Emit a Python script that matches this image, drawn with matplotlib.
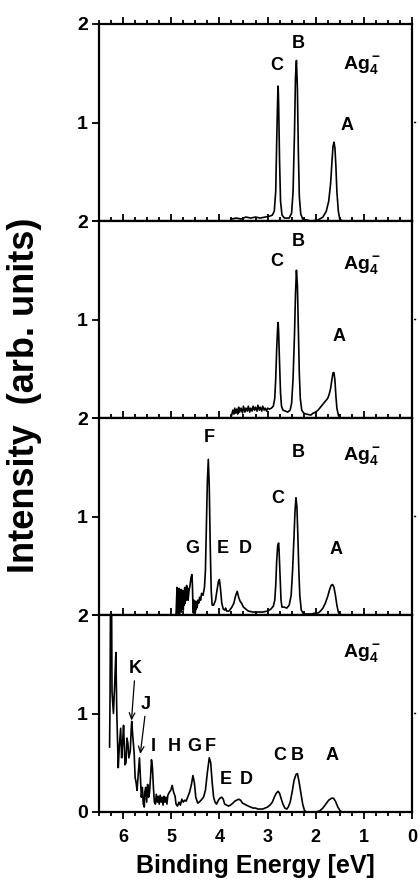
import matplotlib
matplotlib.use("Agg")
import matplotlib.pyplot as plt
from matplotlib.ticker import MultipleLocator

plt.rcParams['font.family'] = ['Liberation Sans', 'DejaVu Sans']
plt.rcParams['font.weight'] = 'bold'
plt.rcParams['mathtext.fontset'] = 'custom'
plt.rcParams['mathtext.rm'] = 'Liberation Sans:bold'
plt.rcParams['mathtext.bf'] = 'Liberation Sans:bold'
plt.rcParams['mathtext.it'] = 'Liberation Sans:bold'

# ---- spectra (binding energy eV, intensity) ----
e1 = [3.75, 3.65, 3.55, 3.45, 3.35, 3.25, 3.15, 3.05, 2.95, 2.90, 2.86, 2.83, 2.81, 2.79, 2.78,
      2.77, 2.75, 2.73, 2.70, 2.65, 2.55, 2.50, 2.47, 2.44, 2.42, 2.40, 2.38, 2.36, 2.34, 2.31,
      2.27, 2.10, 1.95, 1.85, 1.78, 1.73, 1.69, 1.66, 1.64, 1.62, 1.60, 1.58, 1.56, 1.53, 1.50, 1.45]
i1 = [0.02, 0.03, 0.02, 0.04, 0.03, 0.04, 0.03, 0.04, 0.05, 0.06, 0.10, 0.30, 0.80, 1.25, 1.37,
      1.20, 0.60, 0.20, 0.06, 0.03, 0.03, 0.08, 0.30, 0.90, 1.45, 1.63, 1.35, 0.70, 0.25, 0.07,
      0.02, 0.00, 0.01, 0.04, 0.10, 0.20, 0.38, 0.62, 0.76, 0.80, 0.74, 0.55, 0.30, 0.10, 0.02, 0.00]

e2 = [3.75, 3.72, 3.70, 3.68, 3.66, 3.64, 3.62, 3.60, 3.58, 3.55, 3.52, 3.50, 3.47, 3.45, 3.42,
      3.40, 3.37, 3.35, 3.32, 3.30, 3.27, 3.25, 3.22, 3.20, 3.17, 3.15, 3.12, 3.10, 3.07, 3.05,
      3.02, 3.00, 2.96, 2.92, 2.88, 2.85, 2.83, 2.81, 2.79, 2.78, 2.77, 2.75, 2.73, 2.71, 2.68,
      2.63, 2.58, 2.53, 2.50, 2.47, 2.44, 2.42, 2.40, 2.38, 2.36, 2.34, 2.32, 2.29, 2.25, 2.20,
      2.10, 2.05, 2.00, 1.95, 1.90, 1.85, 1.80, 1.75, 1.72, 1.69, 1.66, 1.64, 1.62, 1.60, 1.58,
      1.56, 1.53, 1.50, 1.40]
i2 = [0.02, 0.08, 0.04, 0.10, 0.05, 0.09, 0.04, 0.11, 0.06, 0.10, 0.05, 0.12, 0.06, 0.10, 0.07,
      0.12, 0.06, 0.10, 0.07, 0.12, 0.08, 0.11, 0.07, 0.13, 0.08, 0.11, 0.07, 0.12, 0.08, 0.10,
      0.07, 0.10, 0.09, 0.10, 0.12, 0.20, 0.40, 0.70, 0.92, 0.97, 0.88, 0.55, 0.25, 0.12, 0.08,
      0.07, 0.06, 0.08, 0.15, 0.40, 0.85, 1.25, 1.50, 1.35, 0.90, 0.45, 0.20, 0.08, 0.05, 0.04,
      0.03, 0.05, 0.06, 0.08, 0.11, 0.14, 0.17, 0.20, 0.24, 0.30, 0.40, 0.46, 0.46, 0.38, 0.22,
      0.10, 0.03, 0.00, 0.00]

e3 = [4.90, 4.88, 4.87, 4.86, 4.85, 4.84, 4.83, 4.82, 4.81, 4.80, 4.79, 4.78, 4.77, 4.76, 4.75,
      4.74, 4.73, 4.72, 4.71, 4.70, 4.69, 4.68, 4.67, 4.66, 4.65, 4.63, 4.61, 4.59, 4.57, 4.56,
      4.55, 4.54, 4.53, 4.52, 4.51, 4.50, 4.49, 4.48, 4.47, 4.46, 4.45, 4.43, 4.41, 4.39, 4.37,
      4.34, 4.31, 4.29, 4.27, 4.25, 4.23, 4.21, 4.19, 4.17, 4.15, 4.12, 4.08, 4.05, 4.02, 4.00,
      3.98, 3.95, 3.92, 3.89, 3.87, 3.85, 3.80, 3.74, 3.70, 3.66, 3.63, 3.60, 3.57, 3.54, 3.50,
      3.45, 3.40, 3.30, 3.20, 3.10, 3.00, 2.93, 2.88, 2.85, 2.83, 2.81, 2.79, 2.77, 2.76, 2.74,
      2.72, 2.70, 2.65, 2.60, 2.55, 2.51, 2.48, 2.45, 2.43, 2.41, 2.39, 2.37, 2.35, 2.33, 2.30,
      2.25, 2.10, 2.00, 1.95, 1.90, 1.85, 1.80, 1.75, 1.71, 1.68, 1.65, 1.62, 1.59, 1.56, 1.53,
      1.50, 1.45]
i3 = [0.00, 0.28, 0.02, 0.25, 0.05, 0.27, 0.00, 0.22, 0.05, 0.26, 0.03, 0.20, 0.08, 0.25, 0.05,
      0.22, 0.10, 0.28, 0.12, 0.25, 0.15, 0.30, 0.18, 0.27, 0.15, 0.25, 0.30, 0.38, 0.41, 0.30,
      0.10, 0.02, 0.15, 0.05, 0.12, 0.03, 0.14, 0.06, 0.10, 0.08, 0.15, 0.12, 0.18, 0.15, 0.22,
      0.20, 0.28, 0.45, 0.90, 1.35, 1.58, 1.30, 0.70, 0.25, 0.10, 0.10, 0.15, 0.25, 0.34, 0.36,
      0.28, 0.12, 0.06, 0.05, 0.07, 0.04, 0.04, 0.08, 0.12, 0.20, 0.24, 0.18, 0.14, 0.12, 0.08,
      0.06, 0.04, 0.03, 0.03, 0.03, 0.04, 0.06, 0.09, 0.15, 0.30, 0.55, 0.70, 0.73, 0.65, 0.40,
      0.15, 0.08, 0.08, 0.07, 0.10, 0.20, 0.45, 0.80, 1.05, 1.19, 1.10, 0.80, 0.45, 0.20, 0.05,
      0.01, 0.01, 0.02, 0.02, 0.04, 0.07, 0.12, 0.19, 0.26, 0.30, 0.31, 0.28, 0.20, 0.10, 0.03,
      0.00, 0.00]

e4 = [6.28, 6.27, 6.26, 6.24, 6.23, 6.20, 6.17, 6.15, 6.13, 6.10, 6.08, 6.05, 6.03, 6.01, 5.99,
      5.96, 5.94, 5.92, 5.90, 5.88, 5.85, 5.83, 5.82, 5.80, 5.77, 5.75, 5.73, 5.71, 5.69, 5.66,
      5.64, 5.62, 5.60, 5.58, 5.56, 5.55, 5.53, 5.51, 5.49, 5.47, 5.45, 5.43, 5.41, 5.39, 5.37,
      5.35, 5.33, 5.31, 5.29, 5.27, 5.25, 5.23, 5.21, 5.19, 5.17, 5.15, 5.13, 5.11, 5.09, 5.07,
      5.04, 5.01, 4.98, 4.95, 4.92, 4.90, 4.87, 4.84, 4.81, 4.78, 4.75, 4.72, 4.69, 4.66, 4.62,
      4.58, 4.55, 4.52, 4.49, 4.45, 4.42, 4.38, 4.33, 4.29, 4.25, 4.21, 4.18, 4.15, 4.12, 4.09,
      4.06, 4.02, 3.99, 3.95, 3.92, 3.89, 3.85, 3.81, 3.77, 3.72, 3.68, 3.64, 3.60, 3.56, 3.52,
      3.48, 3.44, 3.40, 3.35, 3.30, 3.25, 3.20, 3.15, 3.10, 3.05, 3.00, 2.95, 2.90, 2.86, 2.82,
      2.78, 2.75, 2.72, 2.68, 2.64, 2.60, 2.57, 2.53, 2.49, 2.45, 2.41, 2.38, 2.35, 2.31, 2.27,
      2.23, 2.18, 2.00, 1.92, 1.85, 1.79, 1.73, 1.67, 1.63, 1.59, 1.54, 1.49, 1.45]
i4 = [0.66, 1.20, 2.30, 2.30, 1.22, 1.00, 1.35, 1.62, 1.00, 0.45, 0.65, 0.85, 0.55, 0.70, 0.88,
      0.48, 0.50, 0.75, 0.70, 0.55, 0.62, 0.85, 0.92, 0.78, 0.60, 0.35, 0.30, 0.22, 0.35, 0.55,
      0.35, 0.15, 0.25, 0.08, 0.05, 0.20, 0.25, 0.10, 0.28, 0.15, 0.20, 0.35, 0.53, 0.45, 0.25,
      0.10, 0.08, 0.18, 0.10, 0.16, 0.08, 0.17, 0.10, 0.15, 0.07, 0.16, 0.10, 0.15, 0.08, 0.17,
      0.20, 0.22, 0.27, 0.20, 0.16, 0.08, 0.06, 0.10, 0.07, 0.13, 0.10, 0.12, 0.11, 0.15, 0.20,
      0.28, 0.37, 0.30, 0.15, 0.09, 0.10, 0.12, 0.15, 0.22, 0.40, 0.55, 0.50, 0.30, 0.15, 0.10,
      0.08, 0.12, 0.14, 0.15, 0.13, 0.08, 0.07, 0.06, 0.07, 0.09, 0.11, 0.12, 0.13, 0.12, 0.09,
      0.08, 0.07, 0.06, 0.05, 0.04, 0.04, 0.03, 0.03, 0.03, 0.04, 0.05, 0.07, 0.10, 0.15, 0.19,
      0.21, 0.19, 0.14, 0.08, 0.04, 0.03, 0.05, 0.10, 0.20, 0.32, 0.38, 0.39, 0.32, 0.20, 0.08,
      0.01, 0.00, 0.00, 0.01, 0.04, 0.08, 0.12, 0.14, 0.14, 0.11, 0.05, 0.01, 0.00]

energies = [e1, e2, e3, e4]
intensities = [i1, i2, i3, i4]

# peak labels per panel: (text, energy, intensity)
labels = [
    [("C", 2.81, 1.58), ("B", 2.36, 1.80), ("A", 1.35, 0.97)],
    [("C", 2.81, 1.59), ("B", 2.36, 1.79), ("A", 1.51, 0.83)],
    [("F", 4.21, 1.80), ("B", 2.37, 1.65), ("C", 2.78, 1.18), ("G", 4.57, 0.68),
     ("E", 3.92, 0.68), ("D", 3.47, 0.68), ("A", 1.58, 0.66)],
    [("K", 5.75, 1.46), ("J", 5.53, 1.09), ("I", 5.38, 0.67), ("H", 4.93, 0.67),
     ("G", 4.52, 0.67), ("F", 4.19, 0.67), ("C", 2.75, 0.57), ("B", 2.39, 0.57),
     ("A", 1.67, 0.57), ("E", 3.87, 0.325), ("D", 3.45, 0.325)],
]
species_pos = [(1.04, 1.58), (1.04, 1.55), (1.04, 1.61), (1.04, 1.61)]

# arrows in the bottom panel: (tail, head)
arrows = [((5.76, 1.36), (5.83, 0.90)), ((5.54, 1.00), (5.65, 0.56))]

fig, axes = plt.subplots(4, 1, figsize=(4.2, 8.86), dpi=100, sharex=True)
fig.subplots_adjust(left=99/420, right=412/420, bottom=1-812/886, top=1-24/886, hspace=0)

for k, ax in enumerate(axes):
    ax.plot(energies[k], intensities[k], color='black', lw=1.2)
    ax.set_xlim(6.5, 0)
    ax.set_ylim(0, 2)
    for s in ax.spines.values():
        s.set_linewidth(1.6)
    ax.xaxis.set_major_locator(MultipleLocator(1))
    ax.xaxis.set_minor_locator(MultipleLocator(0.25))
    ax.tick_params(axis='x', which='both', direction='out', top=True, bottom=True, width=1.3)
    ax.tick_params(axis='x', which='major', length=5, labelsize=13, pad=7)
    ax.tick_params(axis='x', which='minor', length=3)
    ax.set_yticks([0, 1, 2])
    if k < 3:
        ax.set_yticklabels(['', '1', '2'])
    else:
        ax.set_yticklabels(['0', '1', '2'])
    ax.tick_params(axis='y', direction='out', length=5, width=1.3, labelsize=14, pad=3)
    ax.tick_params(axis='y', which='minor', left=False)
    for txt, x, y in labels[k]:
        ax.text(x, y, txt, ha='center', va='center', fontsize=13, fontweight='bold')
    sx, sy = species_pos[k]
    ax.text(sx, sy, r'Ag$_4^-$', ha='center', va='center', fontsize=14, fontweight='bold')
    # short tick on the right spine at 1
    ax.annotate('', xy=(1.0, 0.5), xycoords='axes fraction', xytext=(1.02, 0.5),
                arrowprops=dict(arrowstyle='-', lw=1.2), annotation_clip=False)

for tail, head in arrows:
    axes[3].annotate('', xy=head, xytext=tail,
                     arrowprops=dict(arrowstyle='->,head_length=0.45,head_width=0.2', lw=0.9, color='black'))

for ax in axes[:3]:
    ax.tick_params(axis='x', labelbottom=False)

fig.text(25/420, 1-395/886, 'Intensity  (arb. units)', rotation=90, ha='center', va='center',
         fontsize=26, fontweight='bold')
fig.text(255/420, 1-866/886, 'Binding Energy [eV]', ha='center', va='center',
         fontsize=18, fontweight='bold')

fig.savefig('out.png', dpi=100)
